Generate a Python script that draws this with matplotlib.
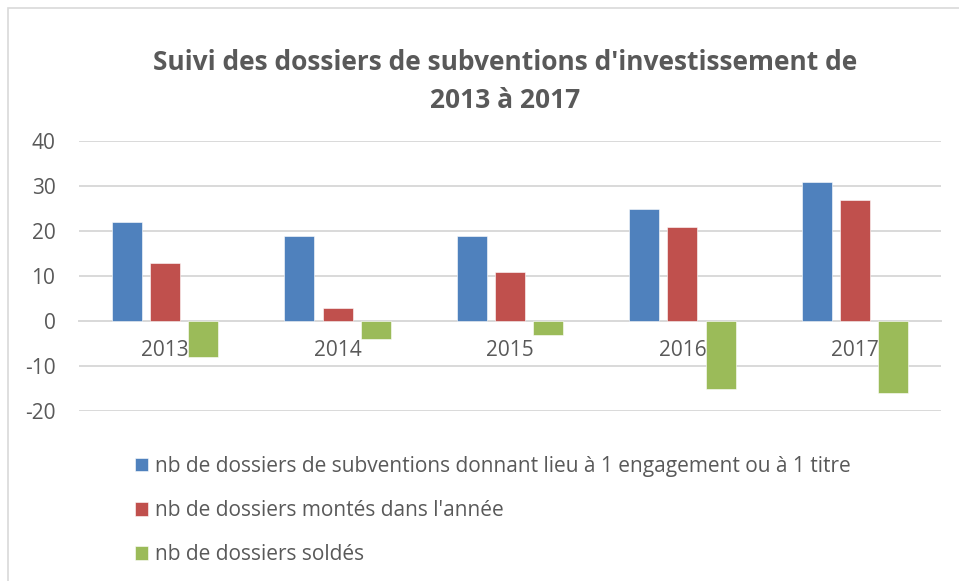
import numpy as np
import matplotlib
matplotlib.use("Agg")
import matplotlib.pyplot as plt
from matplotlib.patches import Rectangle

years = ["2013", "2014", "2015", "2016", "2017"]
engages = [22, 19, 19, 25, 31]
montes = [13, 3, 11, 21, 27]
soldes = [-8, -4, -3, -15, -16]
labels = [
    "nb de dossiers de subventions donnant lieu à 1 engagement ou à 1 titre",
    "nb de dossiers montés dans l'année",
    "nb de dossiers soldés",
]
colors = ["#4F81BD", "#C0504D", "#9BBB59"]

plt.rcParams["font.family"] = ["Open Sans", "DejaVu Sans"]
plt.rcParams["axes.unicode_minus"] = False

fig = plt.figure(figsize=(9.59, 5.81), dpi=100)
fig.patches.append(Rectangle((8 / 959, -0.1), 1.2, 1 - 8 / 581 + 0.1,
                             transform=fig.transFigure, fill=False,
                             edgecolor="#D9D9D9", linewidth=1.2))
ax = fig.add_axes([79 / 959, 1 - 411 / 581, (941 - 79) / 959, 270 / 581])

x = np.arange(len(years))
w = 0.174
step = 0.222
for i, (vals, lab) in enumerate(zip([engages, montes, soldes], labels)):
    ax.bar(x + (i - 1) * step, vals, width=w, color=colors[i], label=lab,
           edgecolor="white", linewidth=0.4, zorder=3)

ax.set_xlim(-0.5, len(years) - 0.5)
ax.set_ylim(-20, 40)
ax.set_yticks(range(-20, 41, 10))
ax.yaxis.grid(True, color="#D9D9D9", linewidth=1.4, zorder=0)
ax.set_axisbelow(True)
for s in ["top", "right", "left"]:
    ax.spines[s].set_visible(False)
ax.spines["bottom"].set_position(("data", 0))
ax.spines["bottom"].set_color("#D9D9D9")
ax.spines["bottom"].set_linewidth(1.4)
ax.set_xticks(x)
ax.set_xticklabels(years)
ax.tick_params(axis="x", length=0, pad=13.5, labelsize=15, labelcolor="#595959")
ax.tick_params(axis="y", length=0, pad=17, labelsize=15, labelcolor="#595959")
for t in ax.get_xticklabels():
    t.set_zorder(2)

fig.text(0.527, 1 - 62 / 581, "Suivi des dossiers de subventions d'investissement de",
         ha="center", va="center", fontsize=19, fontweight="bold", color="#595959")
fig.text(0.527, 1 - 101 / 581, "2013 à 2017",
         ha="center", va="center", fontsize=19, fontweight="bold", color="#595959")

fig.legend(loc="upper left", bbox_to_anchor=(116 / 959, 1 - 437 / 581),
           frameon=False, fontsize=15, labelcolor="#595959",
           handlelength=0.62, handleheight=0.62, handletextpad=0.35,
           labelspacing=1.12)

fig.savefig("out.png", dpi=100)
